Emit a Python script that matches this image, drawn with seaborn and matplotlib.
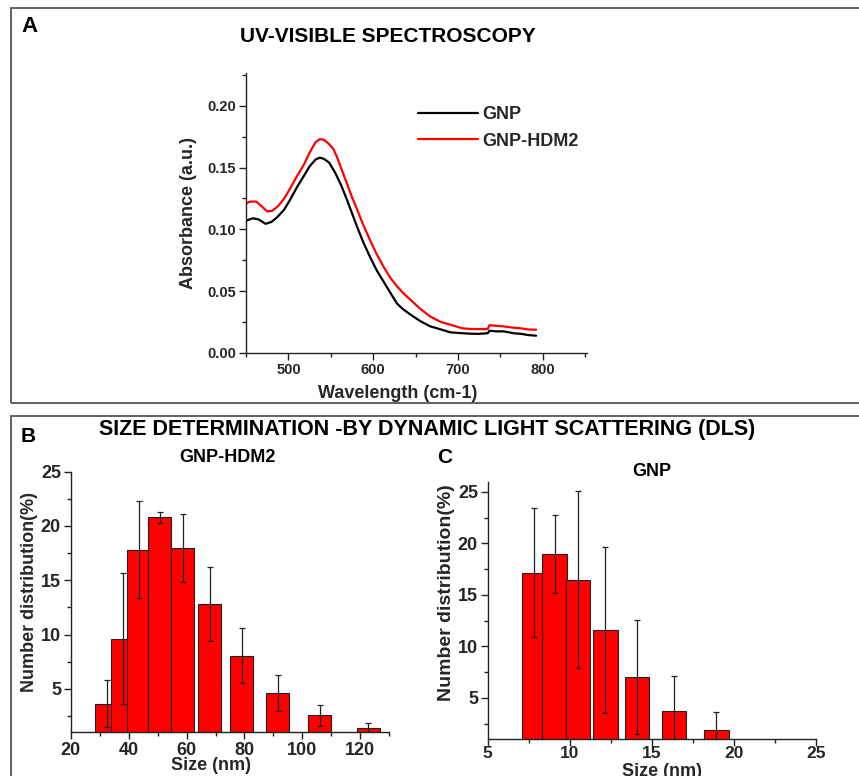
import numpy as np
import pandas as pd
import matplotlib
matplotlib.use("Agg")
import matplotlib.pyplot as plt
import seaborn as sns
from matplotlib.patches import Rectangle
from matplotlib.ticker import MultipleLocator

# ---------------- data ----------------
wl_gnp = [450, 458, 465, 473, 480, 487, 495, 502, 510, 518, 525, 532, 537, 542, 548,
          555, 562, 569, 575, 581, 588, 596, 604, 612, 619, 624, 628, 635, 644, 655,
          667, 680, 691, 705, 715, 725, 735, 737, 745, 754, 765, 774, 783, 792]
abs_gnp = [0.107, 0.109, 0.108, 0.1045, 0.106, 0.110, 0.116, 0.124, 0.134, 0.143, 0.151,
           0.1565, 0.158, 0.157, 0.154, 0.146, 0.136, 0.124, 0.113, 0.102, 0.090, 0.078,
           0.067, 0.058, 0.050, 0.0445, 0.040, 0.0355, 0.031, 0.026, 0.0216, 0.019, 0.0167,
           0.016, 0.0156, 0.0155, 0.016, 0.018, 0.0175, 0.0175, 0.016, 0.0155, 0.0145, 0.014]

wl_hdm2 = [450, 455, 462, 468, 475, 481, 488, 495, 502, 510, 518, 525, 532, 537, 542,
           548, 553, 557, 563, 569, 575, 581, 588, 596, 604, 612, 620, 628, 636, 644,
           655, 667, 680, 691, 705, 715, 725, 735, 737, 745, 754, 765, 774, 783, 792]
abs_hdm2 = [0.121, 0.1225, 0.1225, 0.119, 0.1145, 0.115, 0.119, 0.125, 0.133, 0.143,
            0.152, 0.162, 0.1705, 0.173, 0.1725, 0.169, 0.165, 0.159, 0.148, 0.137, 0.126,
            0.116, 0.104, 0.0916, 0.080, 0.070, 0.061, 0.054, 0.048, 0.043, 0.036, 0.0296,
            0.025, 0.0229, 0.020, 0.0194, 0.0193, 0.0194, 0.0225, 0.022, 0.0215, 0.0205,
            0.020, 0.019, 0.0189]

size_hdm2 = [32.4, 38.0, 43.5, 50.8, 58.7, 68.0, 79.0, 91.4, 106.0, 122.8]
dist_hdm2 = [3.65, 9.6, 17.8, 20.8, 17.95, 12.8, 8.0, 4.6, 2.6, 1.4]
lo_hdm2 = [1.45, 3.6, 13.4, 20.3, 14.8, 9.4, 5.5, 2.95, 1.6, 0.8]
hi_hdm2 = [5.85, 15.7, 22.3, 21.3, 21.1, 16.2, 10.6, 6.3, 3.55, 1.9]

size_gnp = [7.82, 9.08, 10.5, 12.16, 14.1, 16.34, 18.92]
dist_gnp = [17.15, 18.95, 16.45, 11.6, 7.05, 3.75, 1.9]
lo_gnp = [10.9, 15.2, 7.85, 3.55, 1.45, 0.4, 0.2]
hi_gnp = [23.45, 22.75, 25.1, 19.65, 12.6, 7.1, 3.6]

# ---------------- style ----------------
W, H = 859, 776
sns.set_theme(style="ticks")
plt.rcParams['font.family'] = ['Liberation Sans', 'DejaVu Sans']
plt.rcParams['font.weight'] = 'bold'
plt.rcParams['axes.labelweight'] = 'bold'
plt.rcParams['axes.edgecolor'] = '#222222'
plt.rcParams['axes.linewidth'] = 1.0

fig = plt.figure(figsize=(W / 100, H / 100), dpi=100)


def ax_px(l, t, r, b):
    return fig.add_axes([l / W, 1 - b / H, (r - l) / W, (b - t) / H])


def ftext(x, y, s, size, ha='center'):
    fig.text(x / W, 1 - y / H, s, fontsize=size, fontweight='bold', ha=ha, va='center',
             color='black')


def style_axis(ax, size):
    sns.despine(ax=ax)
    ax.tick_params(which='major', direction='out', length=5, width=1, color='#222222',
                   labelsize=size, pad=2)
    ax.tick_params(which='minor', direction='out', length=3, width=1, color='#222222')
    for lab in ax.get_xticklabels() + ax.get_yticklabels():
        lab.set_fontweight('bold')


# panel boxes
for (top, bot) in [(8.3, 402.5), (416, 800)]:
    fig.add_artist(Rectangle((11 / W, 1 - bot / H), (920 - 11) / W, (bot - top) / H,
                             transform=fig.transFigure, fill=False, ec='#555555', lw=1.3,
                             clip_on=False))

# ---------------- panel A ----------------
axA = ax_px(246, 73, 587, 353)
df_a = pd.concat([
    pd.DataFrame({'wl': wl_gnp, 'abs': abs_gnp, 'series': 'GNP'}),
    pd.DataFrame({'wl': wl_hdm2, 'abs': abs_hdm2, 'series': 'GNP-HDM2'}),
])
sns.lineplot(data=df_a, x='wl', y='abs', hue='series',
             palette={'GNP': 'black', 'GNP-HDM2': '#ff0000'},
             estimator=None, sort=False, lw=1.6, legend=False, ax=axA)
axA.set_xlim(450, 852)
axA.set_ylim(0, 0.2265)
axA.xaxis.set_major_locator(MultipleLocator(100))
axA.xaxis.set_minor_locator(MultipleLocator(50))
axA.yaxis.set_major_locator(MultipleLocator(0.05))
axA.yaxis.set_minor_locator(MultipleLocator(0.025))
axA.yaxis.set_major_formatter(matplotlib.ticker.FormatStrFormatter('%.2f'))
style_axis(axA, 10.5)
axA.set_xlabel('Wavelength (cm-1)', fontsize=13, fontweight='bold')
axA.set_ylabel('Absorbance (a.u.)', fontsize=13, fontweight='bold')
axA.xaxis.set_label_coords(0.446, -0.114)
axA.yaxis.set_label_coords(-0.144, 0.5)
lines = axA.get_lines()
axA.legend(lines[:2], ['GNP', 'GNP-HDM2'], frameon=False, loc='upper left',
           bbox_to_anchor=((418 - 246) / 341, (353 - 106.5) / 280), borderpad=0,
           borderaxespad=0, handlelength=3.3, handletextpad=0.25, labelspacing=0.5,
           prop={'size': 13, 'weight': 'bold'})

ftext(29, 27, 'A', 16)
ftext(388, 36, 'UV-VISIBLE SPECTROSCOPY', 15)

# ---------------- panel B ----------------
axB = ax_px(70.7, 471.7, 389.3, 732.3)
min_b = np.min(np.diff(size_hdm2))
sns.barplot(x=size_hdm2, y=dist_hdm2, native_scale=True, width=8 / min_b,
            color='#ff0000', saturation=1, edgecolor='#222222', linewidth=0.8,
            errorbar=None, ax=axB)
d = np.array(dist_hdm2)
axB.errorbar(size_hdm2, d, yerr=[d - np.array(lo_hdm2), np.array(hi_hdm2) - d],
             fmt='none', ecolor='#222222', elinewidth=0.9, capsize=2, capthick=0.9)
axB.set_xlim(20, 130)
axB.set_ylim(1, 25)
axB.xaxis.set_major_locator(MultipleLocator(20))
axB.xaxis.set_minor_locator(MultipleLocator(10))
axB.yaxis.set_major_locator(MultipleLocator(5))
axB.yaxis.set_minor_locator(MultipleLocator(2.5))
style_axis(axB, 13)
axB.set_xlabel('Size (nm)', fontsize=13, fontweight='bold')
axB.set_ylabel('Number distribution(%)', fontsize=13, fontweight='bold')
axB.xaxis.set_label_coords(0.44, -0.096)
axB.yaxis.set_label_coords(-0.102, 0.54)

ftext(28, 437, 'B', 15)
ftext(427, 430, 'SIZE DETERMINATION -BY DYNAMIC LIGHT SCATTERING (DLS)', 15.5)
ftext(227, 457, 'GNP-HDM2', 13)

# ---------------- panel C ----------------
axC = ax_px(487.7, 481.7, 816, 739)
min_c = np.min(np.diff(size_gnp))
sns.barplot(x=size_gnp, y=dist_gnp, native_scale=True, width=1.5 / min_c,
            color='#ff0000', saturation=1, edgecolor='#222222', linewidth=0.8,
            errorbar=None, ax=axC)
d = np.array(dist_gnp)
axC.errorbar(size_gnp, d, yerr=[d - np.array(lo_gnp), np.array(hi_gnp) - d],
             fmt='none', ecolor='#222222', elinewidth=0.9, capsize=2, capthick=0.9)
axC.set_xlim(5, 25)
axC.set_ylim(1, 26)
axC.xaxis.set_major_locator(MultipleLocator(5))
axC.xaxis.set_minor_locator(MultipleLocator(2.5))
axC.yaxis.set_major_locator(MultipleLocator(5))
axC.yaxis.set_minor_locator(MultipleLocator(2.5))
style_axis(axC, 13)
axC.tick_params(axis='x', pad=0, labelsize=12.5)
axC.set_xlabel('Size (nm)', fontsize=13, fontweight='bold')
axC.set_ylabel('Number distribution(%)', fontsize=14, fontweight='bold')
axC.xaxis.set_label_coords(0.532, -0.095)
axC.yaxis.set_label_coords(-0.10, 0.567)

ftext(444.5, 457.5, 'C', 15)
ftext(652, 472, 'GNP', 13)

fig.savefig('out.png', dpi=100)
